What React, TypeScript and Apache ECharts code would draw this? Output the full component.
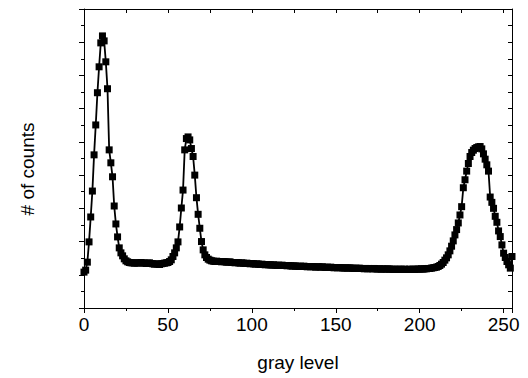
import React, { useEffect, useRef } from "react";
import * as echarts from "echarts";

// counts per gray level 0..255 (arbitrary units, y axis 0..9)
const counts: number[] = [
  1.08, 1.14, 1.38, 1.99, 2.74, 3.52, 4.61, 5.51, 6.48, 7.26,
  7.98, 8.19, 8.04, 7.41, 6.60, 4.76, 4.37, 3.95, 3.07, 2.53,
  2.14, 1.81, 1.66, 1.57, 1.48, 1.42, 1.39, 1.37, 1.36, 1.36,
  1.35, 1.36, 1.35, 1.36, 1.37, 1.36, 1.35, 1.34, 1.35, 1.36,
  1.34, 1.33, 1.32, 1.33, 1.32, 1.31, 1.33, 1.34, 1.35, 1.36,
  1.37, 1.40, 1.45, 1.55, 1.66, 1.81, 1.99, 2.44, 3.01, 3.55,
  4.76, 5.10, 5.15, 5.06, 4.80, 4.56, 4.00, 3.32, 2.82, 2.40,
  2.00, 1.75, 1.60, 1.52, 1.47, 1.44, 1.42, 1.41, 1.40, 1.41,
  1.40, 1.40, 1.39, 1.40, 1.39, 1.38, 1.38, 1.39, 1.37, 1.37,
  1.36, 1.37, 1.36, 1.35, 1.36, 1.35, 1.34, 1.35, 1.34, 1.33,
  1.34, 1.33, 1.32, 1.33, 1.32, 1.31, 1.32, 1.31, 1.30, 1.31,
  1.30, 1.30, 1.29, 1.30, 1.29, 1.28, 1.29, 1.28, 1.29, 1.28,
  1.28, 1.27, 1.28, 1.27, 1.26, 1.27, 1.26, 1.26, 1.25, 1.26,
  1.25, 1.26, 1.25, 1.24, 1.25, 1.24, 1.25, 1.24, 1.23, 1.24,
  1.24, 1.23, 1.24, 1.23, 1.22, 1.23, 1.22, 1.23, 1.22, 1.21,
  1.22, 1.21, 1.22, 1.21, 1.21, 1.20, 1.21, 1.20, 1.21, 1.20,
  1.20, 1.19, 1.20, 1.19, 1.20, 1.19, 1.19, 1.18, 1.19, 1.18,
  1.19, 1.18, 1.18, 1.19, 1.18, 1.17, 1.18, 1.17, 1.18, 1.17,
  1.17, 1.18, 1.17, 1.17, 1.16, 1.17, 1.16, 1.17, 1.16, 1.17,
  1.16, 1.17, 1.16, 1.16, 1.17, 1.16, 1.17, 1.16, 1.17, 1.17,
  1.17, 1.18, 1.17, 1.18, 1.18, 1.19, 1.19, 1.20, 1.21, 1.22,
  1.23, 1.25, 1.28, 1.32, 1.37, 1.44, 1.51, 1.60, 1.72, 1.86,
  2.02, 2.20, 2.36, 2.56, 2.80, 3.05, 3.62, 3.86, 4.12, 4.35,
  4.56, 4.68, 4.75, 4.80, 4.83, 4.85, 4.86, 4.79, 4.64, 4.48,
  4.31, 4.12, 3.34, 3.18, 3.00, 2.76, 2.58, 2.32, 2.15, 1.90,
  1.65, 1.52, 1.40, 1.30, 1.20, 1.55,
];

const xMin = 0;
const xMax = 255;
const xInterval = 50;
const yMin = 0;
const yMax = 9;
const yInterval = 1;

const xTitle = "gray level";
const yTitle = "# of counts";

const FONT = "'Liberation Sans', Arial, Helvetica, sans-serif";

export default function App() {
  const ref = useRef<HTMLDivElement>(null);

  useEffect(() => {
    if (!ref.current) return;
    const chart = echarts.init(ref.current, undefined, { renderer: "svg" });
    const black = "#000";
    const lineAxis = { show: true, onZero: false, lineStyle: { color: black, width: 1 } };

    chart.setOption({
      animation: false,
      backgroundColor: "#fff",
      grid: { left: 84, top: 9, right: 16, bottom: 70, containLabel: false },
      xAxis: [
        {
          type: "value",
          position: "bottom",
          min: xMin,
          max: xMax,
          interval: xInterval,
          axisLine: lineAxis,
          axisTick: { show: true, inside: false, length: 5, lineStyle: { color: black } },
          minorTick: { show: true, splitNumber: 2, length: 3, lineStyle: { color: black } },
          splitLine: { show: false },
          minorSplitLine: { show: false },
          axisLabel: {
            color: black,
            fontSize: 19,
            fontFamily: FONT,
            margin: 7,
            showMaxLabel: false,
            formatter: (v: number) => (v % xInterval === 0 ? String(v) : ""),
          },
          name: xTitle,
          nameLocation: "middle",
          nameGap: 45,
          nameTextStyle: { color: black, fontSize: 19, fontFamily: FONT },
        },
        {
          type: "value",
          position: "top",
          min: xMin,
          max: xMax,
          interval: xInterval,
          axisLine: lineAxis,
          axisTick: { show: true, inside: true, length: 4, lineStyle: { color: black } },
          minorTick: { show: true, splitNumber: 2, length: 4, lineStyle: { color: black } },
          splitLine: { show: false },
          axisLabel: { show: false },
        },
      ],
      yAxis: [
        {
          type: "value",
          position: "left",
          min: yMin,
          max: yMax,
          interval: yInterval,
          axisLine: lineAxis,
          axisTick: { show: true, inside: false, length: 5, lineStyle: { color: black } },
          minorTick: { show: true, splitNumber: 2, length: 3, lineStyle: { color: black } },
          splitLine: { show: false },
          axisLabel: { show: false },
        },
        {
          type: "value",
          position: "right",
          min: yMin,
          max: yMax,
          interval: yInterval,
          axisLine: lineAxis,
          axisTick: { show: true, inside: true, length: 4, lineStyle: { color: black } },
          minorTick: { show: true, splitNumber: 2, length: 4, lineStyle: { color: black } },
          splitLine: { show: false },
          axisLabel: { show: false },
        },
      ],
      graphic: [
        {
          type: "text",
          x: 27,
          y: 169,
          rotation: Math.PI / 2,
          style: {
            text: yTitle,
            fill: black,
            fontSize: 19,
            fontFamily: FONT,
            align: "center",
            verticalAlign: "middle",
          },
        },
      ],
      series: [
        {
          type: "line",
          xAxisIndex: 0,
          yAxisIndex: 0,
          data: counts.map((c, i) => [i, c]),
          symbol: "rect",
          symbolSize: 7,
          showAllSymbol: true,
          clip: false,
          lineStyle: { color: black, width: 1.8 },
          itemStyle: { color: black },
          emphasis: { disabled: true },
        },
      ],
    });
    return () => chart.dispose();
  }, []);

  return (
    <div
      ref={ref}
      style={{ position: "fixed", left: 0, top: 0, width: 528, height: 378 }}
    />
  );
}
